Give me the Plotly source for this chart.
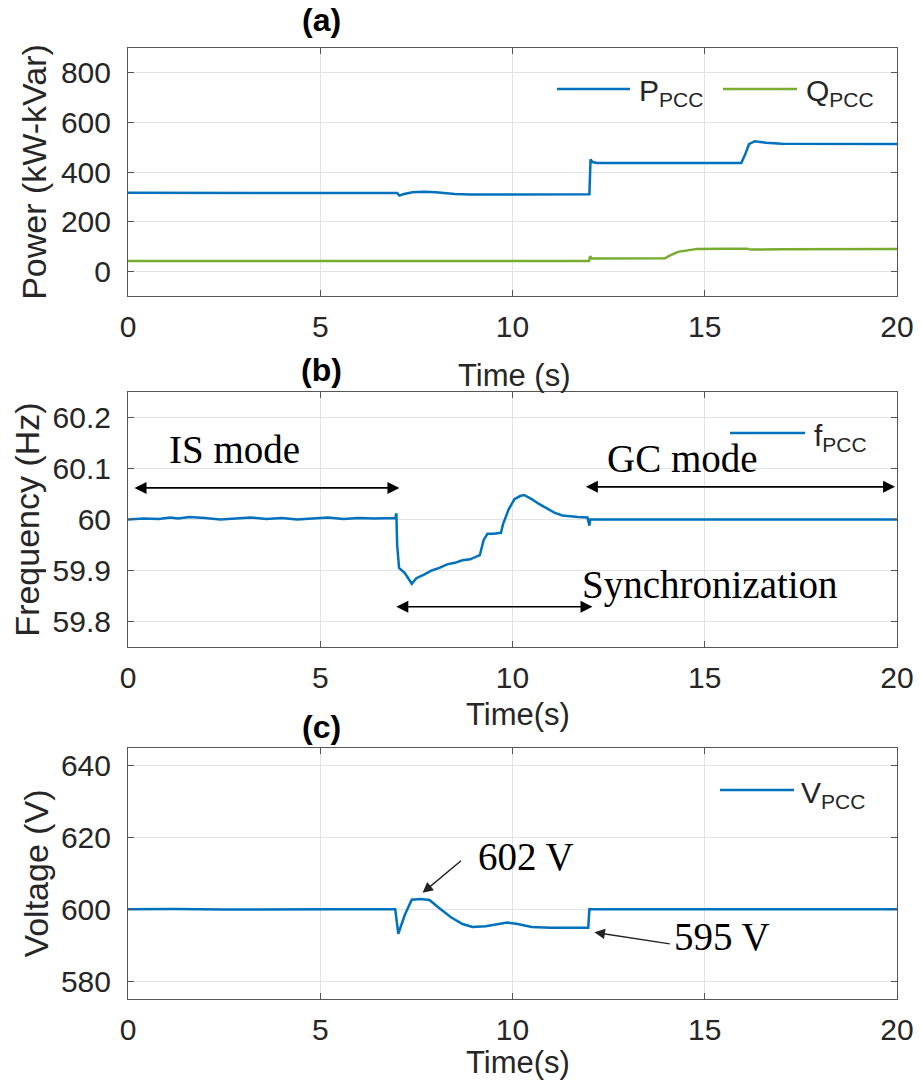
import plotly.graph_objects as go

# ---------------- data ----------------
t_p = [0, 7.0, 7.06, 7.15, 7.4, 7.7, 8.0, 8.5, 8.9, 10, 11, 12.0, 12.03, 12.08, 12.2, 14, 15.95, 16.05, 16.15, 16.3, 16.6, 17, 20]
p_pcc = [316, 315, 305, 310, 318, 320, 318, 311, 309, 309, 310, 310, 451, 440, 436, 435, 436, 470, 512, 524, 518, 514, 513]

t_q = [0, 7, 10, 11.99, 12.02, 12.06, 13.97, 14.05, 14.3, 14.8, 15.5, 16.1, 16.2, 17, 20]
q_pcc = [41, 41, 40, 41, 60, 51, 52, 60, 78, 90, 91, 91, 87, 89, 90]

t_f = [0, 0.4, 0.8, 1.1, 1.3, 1.6, 2.0, 2.4, 2.8, 3.2, 3.6, 4.0, 4.4, 4.8, 5.2, 5.6, 6.0, 6.4, 6.8, 6.95,
       6.98, 7.0, 7.05, 7.2, 7.38, 7.5, 7.7, 7.9, 8.1, 8.3, 8.5, 8.7, 8.9, 9.1, 9.15, 9.25, 9.35, 9.5, 9.7,
       9.75, 9.9, 10.05, 10.2, 10.3, 10.5, 10.7, 10.9, 11.1, 11.3, 11.5, 11.7, 11.95, 12.0, 12.02, 12.05, 20]
f_pcc = [60.000, 60.002, 60.001, 60.004, 60.002, 60.005, 60.003, 60.000, 60.002, 60.004, 60.001, 60.003,
         60.000, 60.002, 60.004, 60.001, 60.003, 60.002, 60.002, 60.003,
         60.012, 59.950, 59.905, 59.895, 59.874, 59.885, 59.892, 59.900, 59.905, 59.912, 59.915, 59.920,
         59.922, 59.928, 59.930, 59.960, 59.972, 59.972, 59.974,
         59.990, 60.020, 60.040, 60.046, 60.048, 60.040, 60.030, 60.022, 60.013, 60.008, 60.006, 60.005,
         60.004, 59.988, 60.000, 60.000, 60.000]

t_v = [0, 1.2, 2.5, 4, 5.5, 6.95, 7.0, 7.03, 7.2, 7.38, 7.6, 7.84, 8.1, 8.4, 8.7, 8.96, 9.3, 9.6, 9.87,
       10.1, 10.5, 11.0, 11.5, 11.97, 12.0, 20]
v_pcc = [600, 600.1, 599.95, 600.05, 600, 600, 596, 593.2, 598.5, 602.7, 602.9, 602.6, 600.3, 597.8,
         595.9, 595.1, 595.3, 595.8, 596.3, 596.0, 595.1, 594.9, 594.9, 594.9, 600, 600]

x_ticks = [0, 5, 10, 15, 20]
p_ticks = [0, 200, 400, 600, 800]
f_ticks = [59.8, 59.9, 60, 60.1, 60.2]
v_ticks = [580, 600, 620, 640]

BLUE = "#0072BD"
GREEN = "#77AC30"
TXT = "#262626"
AX = "#555555"
SANS = "Liberation Sans, Arial, sans-serif"
SERIF = "Liberation Serif, Times New Roman, serif"

W, H = 921, 1082
px = lambda v: v / W
py = lambda v: 1 - v / H

fig = go.Figure()
fig.add_trace(go.Scatter(x=t_p, y=p_pcc, mode="lines", name="P<sub>PCC</sub>", showlegend=False,
                         line=dict(color=BLUE, width=2.5), xaxis="x", yaxis="y"))
fig.add_trace(go.Scatter(x=t_q, y=q_pcc, mode="lines", name="Q<sub>PCC</sub>", showlegend=False,
                         line=dict(color=GREEN, width=2.5), xaxis="x", yaxis="y"))
fig.add_trace(go.Scatter(x=t_f, y=f_pcc, mode="lines", name="f<sub>PCC</sub>", showlegend=False,
                         line=dict(color=BLUE, width=2.5), xaxis="x2", yaxis="y2"))
fig.add_trace(go.Scatter(x=t_v, y=v_pcc, mode="lines", name="V<sub>PCC</sub>", showlegend=False,
                         line=dict(color=BLUE, width=2.5), xaxis="x3", yaxis="y3"))

xdom = [px(128), px(897)]
doms = [[py(296), py(48)], [py(647), py(392)], [py(999), py(748)]]

def xax(anchor):
    return dict(domain=xdom, anchor=anchor, range=[0, 20], tickvals=x_ticks, automargin=False,
                ticks="inside", ticklen=6, tickcolor=AX, showline=True, linecolor=AX,
                linewidth=1, mirror="ticks", showgrid=True, gridcolor="#e3e3e3", zeroline=False,
                tickfont=dict(family=SANS, size=30, color=TXT), ticklabelstandoff=4)

def yax(anchor, dom, rng, tv, title, standoff):
    return dict(domain=dom, anchor=anchor, range=rng, tickvals=tv, automargin=False,
                ticks="inside", ticklen=6, tickcolor=AX, showline=True, linecolor=AX,
                linewidth=1, mirror="ticks", showgrid=True, gridcolor="#e3e3e3", zeroline=False,
                tickfont=dict(family=SANS, size=30, color=TXT), ticklabelstandoff=10,
                title=dict(text=title, font=dict(family=SANS, size=34, color=TXT), standoff=standoff))

fig.update_layout(
    width=W, height=H, autosize=False, margin=dict(l=0, r=0, t=0, b=0),
    paper_bgcolor="white", plot_bgcolor="white", showlegend=False,
    xaxis=xax("y"),
    yaxis=yax("x", doms[0], [-100, 900], p_ticks, "Power (kW-kVar)", 4),
    xaxis2=xax("y2"),
    yaxis2=yax("x2", doms[1], [59.75, 60.25], f_ticks, "Frequency (Hz)", 2),
    xaxis3=xax("y3"),
    yaxis3=yax("x3", doms[2], [575, 645], v_ticks, "Voltage (V)", 2),
)

ann = []
# panel titles
for lab, yy in [("(a)", 20), ("(b)", 370), ("(c)", 727)]:
    ann.append(dict(text="<b>%s</b>" % lab, xref="paper", yref="paper", x=px(321), y=py(yy),
                    showarrow=False, font=dict(family=SANS, size=32, color="black"),
                    xanchor="center", yanchor="middle"))
# x axis titles
for lab, xx, yy in [("Time (s)", 514, 375), ("Time(s)", 518, 714), ("Time(s)", 518, 1062)]:
    ann.append(dict(text=lab, xref="paper", yref="paper", x=px(xx), y=py(yy), showarrow=False,
                    font=dict(family=SANS, size=31, color=TXT), xanchor="center", yanchor="middle"))

# legends (drawn as line samples + labels)
shapes = []
legend_items = [
    (557, 630, 89, 637, "P<sub>PCC</sub>", BLUE),
    (723, 797, 89, 804, "Q<sub>PCC</sub>", GREEN),
    (730, 805, 433, 812, "f<sub>PCC</sub>", BLUE),
    (720, 794, 790, 799, "V<sub>PCC</sub>", BLUE),
]
for x0, x1, yl, xt, lab, col in legend_items:
    shapes.append(dict(type="line", xref="paper", yref="paper", x0=px(x0), x1=px(x1),
                       y0=py(yl), y1=py(yl), line=dict(color=col, width=2.5)))
    ann.append(dict(text=lab, xref="paper", yref="paper", x=px(xt), y=py(yl + 4), showarrow=False,
                    font=dict(family=SANS, size=30, color=TXT), xanchor="left", yanchor="middle"))

# panel (b) texts
ann.append(dict(text="IS mode", xref="x2", yref="y2", x=2.78, y=60.137, showarrow=False,
                font=dict(family=SERIF, size=39, color="black")))
ann.append(dict(text="GC mode", xref="x2", yref="y2", x=14.42, y=60.12, showarrow=False,
                font=dict(family=SERIF, size=39, color="black")))
ann.append(dict(text="Synchronization", xref="x2", yref="y2", x=15.14, y=59.872, showarrow=False,
                font=dict(family=SERIF, size=39, color="black")))

def dbl(x0, x1, y, xr, yr):
    return dict(text="", xref=xr, yref=yr, x=x1, y=y, ax=x0, ay=y, axref=xr, ayref=yr,
                showarrow=True, arrowhead=2, startarrowhead=2, arrowside="end+start",
                arrowsize=1.5, startarrowsize=1.5, arrowwidth=1.6, arrowcolor="black",
                standoff=0, startstandoff=0)

ann.append(dbl(0.13, 7.06, 60.062, "x2", "y2"))
ann.append(dbl(11.87, 19.95, 60.064, "x2", "y2"))
ann.append(dbl(6.94, 12.08, 59.829, "x2", "y2"))

# panel (c) texts
ann.append(dict(text="602 V", xref="x3", yref="y3", x=10.36, y=614.7, showarrow=False,
                font=dict(family=SERIF, size=39, color="black")))
ann.append(dict(text="595 V", xref="x3", yref="y3", x=15.45, y=592.3, showarrow=False,
                font=dict(family=SERIF, size=39, color="black")))
ann.append(dict(text="", xref="x3", yref="y3", x=7.66, y=604.6, ax=8.70, ay=613.9, axref="x3", ayref="y3",
                showarrow=True, arrowhead=2, arrowsize=1.5, arrowwidth=1.4, arrowcolor="#222", standoff=0))
ann.append(dict(text="", xref="x3", yref="y3", x=12.13, y=593.6, ax=14.13, ay=590.3, axref="x3", ayref="y3",
                showarrow=True, arrowhead=2, arrowsize=1.5, arrowwidth=1.4, arrowcolor="#222", standoff=0))

fig.update_layout(annotations=ann, shapes=shapes)
fig.write_html("out.html")
